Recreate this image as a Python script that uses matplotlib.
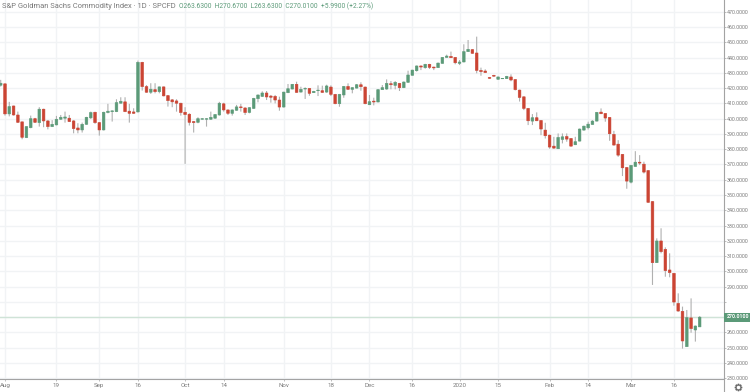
import matplotlib
matplotlib.use('Agg')
import matplotlib.pyplot as plt
from matplotlib.patches import Rectangle

opens = [421.9, 422.8, 403.1, 408.3, 402.4, 397.9, 387.6, 394.1, 400, 397.4,
         406.2, 398.5, 394.8, 395.9, 399.6, 400.3, 400.3, 398.5, 393.9, 392.6,
         396.3, 400.5, 404.2, 397.4, 392.6, 404, 404.6, 404.6, 410.1, 411,
         404.9, 404.4, 404.4, 436.9, 421, 417.3, 419, 417.7, 420.8, 415.1,
         412.3, 411.6, 410.1, 404.2, 402.9, 398.1, 397.6, 399.6, 399.6, 399.6,
         400.3, 402.4, 409.7, 405.7, 403.5, 405.5, 407.7, 407, 404.1, 406.7,
         413.1, 414.6, 416.8, 414.8, 414.6, 412.2, 407.6, 417, 419.4, 422.5,
         417.4, 419.4, 419.8, 417, 418.3, 418.3, 417.4, 420.7, 415.9, 409.8,
         415.5, 421.1, 419.2, 420, 422.2, 420.7, 409.1, 411.5, 410.9, 419,
         419.4, 422.9, 421.8, 423.1, 420.3, 423.8, 428.4, 431.4, 434.5, 433.4,
         435.6, 433.8, 433.4, 436.2, 440.1, 440.8, 440.1, 436.2, 437.1, 443.9,
         445.2, 443, 431.6, 431.2, 427, 428.4, 425.8, 426.1, 426.2, 427.3,
         425.6, 418.7, 414.3, 406.7, 398.4, 400.6, 398.8, 392.5, 389.2, 382,
         380.3, 386.4, 388.3, 387, 382.9, 385.3, 392.5, 394, 396.2, 398.4,
         404.3, 403.4, 400.8, 389.7, 383.3, 376.6, 368, 358.4, 368.7, 371.5,
         370.2, 366, 345.7, 305.7, 319.9, 314.4, 300.9, 298.7, 279, 273.8,
         250.7, 269.5, 261.6, 263.63]
closes = [423.2, 403.1, 407.9, 402.4, 397.6, 387.8, 394.8, 400, 397.6, 406.2,
          398.5, 394.8, 396.3, 399.6, 400.9, 401.1, 398.1, 393.5, 392.6, 396.3,
          400.9, 404, 397.4, 392.6, 404.2, 404.9, 405.1, 410.5, 411.4, 404.6,
          403.5, 403.5, 436.9, 421, 417.3, 419.3, 417.7, 420.8, 414.9, 411.8,
          411, 410.1, 404, 402.7, 397.6, 397.4, 400, 400, 400, 400.9,
          402.7, 410.1, 405.7, 403.5, 405.7, 407.7, 407.2, 404, 407.2, 413.3,
          415.5, 416.8, 414.2, 414, 412.2, 407.6, 417.4, 419.6, 422.5, 417.2,
          419.2, 419.8, 416.6, 417.9, 418.7, 417.2, 421.4, 415.9, 409.8, 415.9,
          421.1, 419.2, 420.3, 422.2, 420.9, 409.8, 411.1, 410.9, 419, 420.3,
          423.1, 422.2, 423.8, 420.3, 424, 428.6, 431.8, 434.5, 433.8, 435.6,
          433.6, 433.2, 436.4, 440.1, 441, 439.9, 436.6, 437.1, 443.9, 445.4,
          442.8, 431.6, 430.8, 430.2, 426.4, 427.8, 427.3, 426.4, 427.7, 425.3,
          419, 413.9, 406.7, 398.6, 400.6, 398.6, 393.2, 388.8, 381.4, 380.7,
          387.7, 388.1, 386.6, 382, 384.9, 393.2, 395.1, 396.4, 398.4, 404.1,
          403.2, 400.4, 390.1, 382.7, 376.1, 367.8, 359.1, 369.4, 371.5, 370.9,
          365, 345.2, 305.7, 319.9, 312.9, 300.5, 299.2, 279.9, 274, 254.4,
          269.7, 262.5, 264.2, 270.01]
highs = [425.4, 423, 411, 408.5, 404.6, 398, 395, 402, 400.5, 407.5,
         406.5, 399, 399, 401.8, 402.4, 404.6, 402.4, 399, 397, 397.4,
         401.2, 404.6, 404.5, 397.8, 404.5, 409.7, 405.4, 412.7, 414, 414,
         409.7, 406.8, 438, 437.2, 422, 423.2, 423.2, 421, 421, 415.5,
         412.8, 412.7, 410.4, 407.5, 403.5, 398.4, 400.9, 400.3, 400.3, 404.6,
         403, 411, 410.4, 406, 406, 409, 409.7, 407.4, 407.5, 413.6,
         415.8, 417.9, 418.1, 415.5, 415.5, 414.4, 417.6, 422.7, 422.7, 424.2,
         420.9, 420.5, 420, 418.2, 421.8, 421.6, 422.2, 421.8, 416.2, 416.2,
         421.4, 423.1, 420.6, 422.7, 423.8, 421, 415.5, 413.7, 419.3, 422,
         425.7, 424.6, 424.6, 423.4, 424.3, 431.4, 432, 434.8, 434.8, 435.9,
         435.9, 434, 436.7, 440.3, 441.9, 443.9, 440.3, 438.4, 448.7, 451.5,
         445.5, 453.7, 433.4, 432.3, 427.3, 428.7, 427.6, 426.6, 428, 429,
         425.8, 419, 414.5, 407, 403, 404.1, 399, 397.3, 389.5, 388.1,
         390.3, 390.3, 390.3, 387.3, 388.1, 393.5, 395.4, 398, 399, 404.4,
         406.7, 403.6, 401, 392, 385.9, 376.8, 368.3, 369.7, 378.7, 376.1,
         371.8, 366.3, 346, 321.6, 328.2, 315.7, 311.8, 299, 285.6, 276.9,
         274.7, 282.3, 264.5, 270.67]
lows = [421, 402, 401.5, 402, 397.2, 386.5, 387.3, 393.7, 397.2, 394.8,
        394.4, 393, 394.5, 395.6, 399.3, 397.4, 397.8, 390.4, 390.4, 390.9,
        396, 399.8, 396.6, 388.9, 392.3, 403.5, 398.1, 404.3, 410, 404.3,
        397.4, 403.2, 404, 418.4, 417, 416.2, 416.6, 416.6, 414.6, 407.9,
        407.5, 404.6, 402, 370.4, 395.5, 390.9, 397, 399.4, 394.8, 399.2,
        400, 402, 404.6, 402.4, 402, 405.2, 404.6, 402.4, 403.5, 406.4,
        410.7, 414.2, 412.2, 410.5, 410, 405.2, 407.3, 416.7, 419.2, 417,
        417.2, 412.9, 415, 416.8, 414.8, 416.9, 417, 414.8, 409.4, 407.8,
        413.7, 418.9, 416.6, 419.8, 418.3, 409.4, 408.9, 408.7, 410.7, 418.8,
        418.9, 419.2, 419.2, 418.1, 420, 423.5, 428.2, 430.8, 431.8, 432.7,
        432.5, 431.8, 433.2, 436, 439.9, 439.7, 435.6, 435.1, 436.9, 443.7,
        442.5, 429.7, 428.1, 430.1, 426.1, 427.5, 425.5, 426, 426, 424.5,
        418.5, 411.2, 405.6, 395.8, 395.8, 398.4, 389.2, 387, 380.3, 380.3,
        380.1, 383.8, 384.9, 381.7, 382.7, 385.1, 392.2, 392.9, 396, 398.2,
        403, 398, 385.5, 382.4, 375, 362.4, 354.1, 357.6, 368.5, 369.6,
        364.1, 345, 291.1, 305.5, 311.8, 296.5, 296.1, 277.5, 273.6, 249.4,
        250.5, 259.8, 254, 263.63]

date_ticks = [1, 13, 23, 32, 43, 52, 66, 77, 86, 96, 107, 116, 128, 137, 147, 157]
date_labels = ['Aug', '19', 'Sep', '16', 'Oct', '14', 'Nov', '18', 'Dec', '16',
               '2020', '15', 'Feb', '14', 'Mar', '16']
price_ticks = list(range(230, 480, 10))
last_price = 270.01

green = '#5b9a78'
red = '#cb4433'
grid_color = '#f1f3f5'
text_color = '#7a7a7a'
axis_color = '#a3a3a3'

plt.rcParams['font.family'] = ['Roboto', 'DejaVu Sans']

W, H = 750, 392
fig = plt.figure(figsize=(W / 100, H / 100), dpi=100)
ax = fig.add_axes([0, (H - 379) / H, 723.5 / W, 379 / H])
ax.set_xlim(-0.163, 168.56)
ax.set_ylim(229.5, 477.7)

ax.grid(True, color=grid_color, linewidth=1)
ax.set_axisbelow(True)

ax.axhline(last_price, color='#cfe3d7', linewidth=1, zorder=1.5)

for i in range(len(opens)):
    col = green if closes[i] >= opens[i] else red
    wick = ax.vlines(i, lows[i], highs[i], color='#b0b0b0', linewidth=0.8, zorder=2)
    wick.set_snap(False)
    top = max(opens[i], closes[i])
    bot = min(opens[i], closes[i])
    ax.bar(i, top - bot, bottom=bot, width=0.62, color=col, edgecolor=col, linewidth=0.4, zorder=3, snap=False)

ax.spines['top'].set_visible(False)
ax.spines['left'].set_visible(False)
ax.spines['right'].set_color(axis_color)
ax.spines['bottom'].set_color(axis_color)

ax.set_xticks(date_ticks)
ax.set_xticklabels(date_labels)
ax.tick_params(axis='x', length=1.5, width=0.5, color=axis_color, labelsize=4.4,
               labelcolor=text_color, pad=1.5)

ax.yaxis.tick_right()
ax.set_yticks(price_ticks)
# the 280 label is covered up on the original, and 270 sits in the price tag
ax.set_yticklabels(['' if p in (270, 280) else '%.4f' % p for p in price_ticks])
ax.tick_params(axis='y', length=1.5, width=0.5, color=axis_color, labelsize=3.8,
               labelcolor=text_color, pad=1)

# price tag on the right axis
fig.add_artist(Rectangle((724 / W, 1 - 321.5 / H), 26 / W, 9 / H, transform=fig.transFigure,
                         facecolor=green, edgecolor='none', zorder=5))
fig.text(726.5 / W, 1 - 317 / H, '%.4f' % last_price, ha='left', va='center', fontsize=3.8,
         color='white', fontweight='bold', zorder=6)

# header row
fig.text(2.5 / W, 1 - 6.5 / H, 'S&P Goldman Sachs Commodity Index \u00b7 1D \u00b7 SPCFD',
         fontsize=5.4, color='#777777', va='center', ha='left')
fig.text(179 / W, 1 - 6.5 / H, 'O263.6300  H270.6700  L263.6300  C270.0100  +5.9900 (+2.27%)',
         fontsize=4.8, color='#5b9a78', va='center', ha='left')

# right axis runs on to the bottom edge, gear icon in the corner
fig.add_artist(plt.Line2D([723.5 / W, 723.5 / W], [0, (H - 379) / H], color=axis_color, linewidth=0.8))
fig.add_artist(plt.Line2D([738 / W], [1 - 386.5 / H], marker=(8, 1, 0), markersize=5.2, color='#666666', linestyle='none'))
fig.add_artist(plt.Line2D([738 / W], [1 - 386.5 / H], marker='o', markersize=3, color='white',
                          markeredgecolor='#666666', markeredgewidth=0.4, linestyle='none'))

fig.savefig('out.png', dpi=100)
